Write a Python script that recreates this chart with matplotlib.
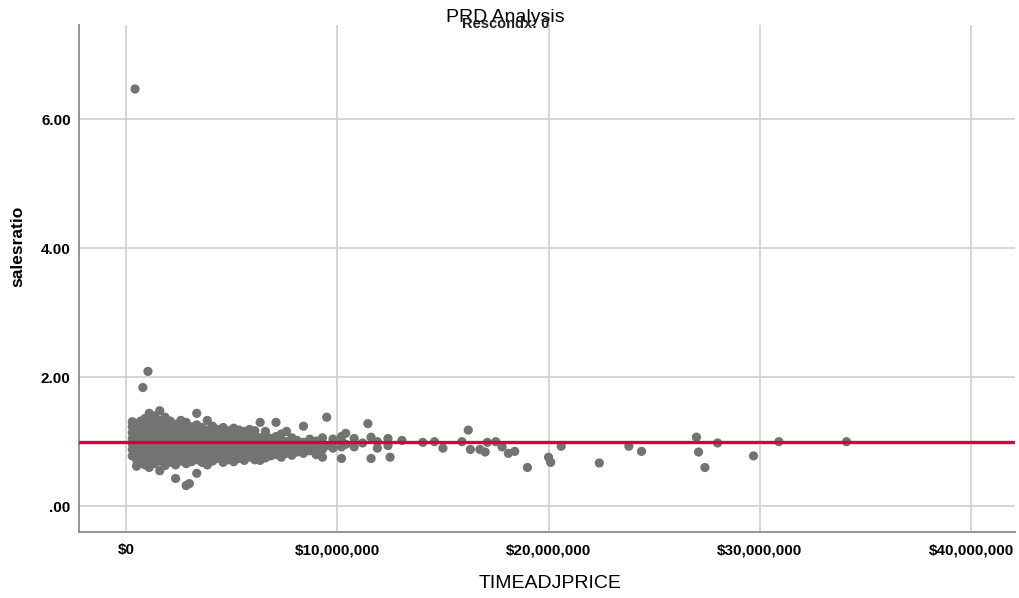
import matplotlib
matplotlib.use("Agg")
import matplotlib.pyplot as plt
from matplotlib.ticker import FuncFormatter

plt.rcParams['font.family'] = ['Liberation Sans', 'DejaVu Sans']

# price in millions of dollars, sales ratio
blob = [
    (0.3, [0.78, 0.88, 0.97, 1.05, 1.14, 1.23, 1.31]),
    (0.5, [0.62, 0.72, 0.83, 0.92, 1.01, 1.10, 1.19, 1.28]),
    (0.7, [0.68, 0.77, 0.86, 0.95, 1.04, 1.13, 1.22, 1.32]),
    (0.9, [0.64, 0.74, 0.84, 0.93, 1.02, 1.11, 1.20, 1.29, 1.36]),
    (1.1, [0.60, 0.70, 0.80, 0.89, 0.98, 1.07, 1.16, 1.25, 1.34, 1.44]),
    (1.35, [0.66, 0.75, 0.85, 0.94, 1.03, 1.12, 1.21, 1.30, 1.40]),
    (1.6, [0.55, 0.70, 0.79, 0.88, 0.97, 1.06, 1.15, 1.24, 1.33, 1.48]),
    (1.85, [0.63, 0.74, 0.83, 0.92, 1.01, 1.10, 1.19, 1.28, 1.38]),
    (2.1, [0.68, 0.78, 0.87, 0.96, 1.05, 1.14, 1.23, 1.32]),
    (2.35, [0.43, 0.64, 0.73, 0.82, 0.91, 1.00, 1.09, 1.18, 1.27]),
    (2.6, [0.70, 0.79, 0.88, 0.97, 1.06, 1.15, 1.24, 1.33]),
    (2.85, [0.32, 0.66, 0.75, 0.84, 0.93, 1.02, 1.11, 1.20, 1.30]),
    (3.0, [0.35]),
    (3.1, [0.69, 0.78, 0.87, 0.96, 1.05, 1.14, 1.23]),
    (3.35, [0.51, 0.72, 0.81, 0.90, 0.99, 1.08, 1.17, 1.26, 1.44]),
    (3.6, [0.68, 0.77, 0.86, 0.95, 1.04, 1.13, 1.22]),
    (3.85, [0.64, 0.73, 0.82, 0.91, 1.00, 1.09, 1.18, 1.33]),
    (4.1, [0.70, 0.79, 0.88, 0.97, 1.06, 1.15, 1.24]),
    (4.35, [0.74, 0.83, 0.92, 1.01, 1.10, 1.19]),
    (4.6, [0.68, 0.78, 0.87, 0.96, 1.05, 1.14, 1.22]),
    (4.85, [0.72, 0.81, 0.90, 0.99, 1.08, 1.17]),
    (5.1, [0.69, 0.78, 0.87, 0.96, 1.05, 1.14, 1.21]),
    (5.35, [0.74, 0.83, 0.92, 1.01, 1.10, 1.18]),
    (5.6, [0.71, 0.80, 0.89, 0.98, 1.07, 1.16]),
    (5.85, [0.76, 0.85, 0.94, 1.03, 1.12, 1.19]),
    (6.1, [0.72, 0.82, 0.91, 1.00, 1.09, 1.17]),
    (6.35, [0.71, 0.79, 0.88, 0.97, 1.06, 1.30]),
    (6.6, [0.75, 0.84, 0.93, 1.02, 1.11, 1.16]),
    (6.85, [0.78, 0.87, 0.96, 1.05]),
    (7.1, [0.80, 0.90, 0.99, 1.08, 1.30]),
    (7.35, [0.76, 0.85, 0.94, 1.03, 1.12]),
    (7.6, [0.82, 0.91, 1.00, 1.16]),
    (7.85, [0.79, 0.88, 0.97, 1.06]),
    (8.1, [0.84, 0.93, 1.02]),
    (8.4, [0.82, 0.90, 0.99, 1.24]),
    (8.7, [0.86, 0.95, 1.04]),
    (9.0, [0.80, 0.92, 1.01]),
    (9.3, [0.76, 0.88, 0.97, 1.06]),
    (9.5, [0.94, 1.38]),
    (9.8, [0.90, 0.99, 1.04]),
    (10.2, [0.74, 0.92, 1.01, 1.08]),
    (10.4, [0.96, 1.13]),
    (10.8, [0.92, 1.05]),
    (11.2, [0.98]),
    (11.45, [1.28]),
    (11.6, [0.74, 1.07]),
    (11.9, [0.90, 1.00]),
    (12.4, [0.94, 1.05]),
    (12.5, [0.76]),
    (13.06, [1.02]),
    (14.05, [0.99]),
    (14.6, [1.00]),
    (15.0, [0.90]),
]

tail_price = [0.43, 1.04, 0.80, 15.9, 16.2, 16.3, 16.75, 17.0, 17.1, 17.5, 17.8, 18.1, 18.4,
              19.0, 20.0, 20.1, 20.6, 22.4, 23.8, 24.4, 27.0, 27.1, 27.4, 28.0, 29.7, 30.9, 34.1]
tail_ratio = [6.47, 2.09, 1.84, 1.00, 1.18, 0.88, 0.88, 0.84, 0.99, 1.00, 0.92, 0.82, 0.85,
              0.60, 0.76, 0.68, 0.93, 0.67, 0.93, 0.85, 1.07, 0.84, 0.60, 0.98, 0.78, 1.00, 1.00]

price = []
ratio = []
for p, ys in blob:
    for v in ys:
        price.append(p * 1e6)
        ratio.append(v)
for p, v in zip(tail_price, tail_ratio):
    price.append(p * 1e6)
    ratio.append(v)

ref_ratio = 1.0
x_ticks = [0, 10e6, 20e6, 30e6, 40e6]
y_ticks = [0, 2, 4, 6]

fig = plt.figure(figsize=(10.2, 5.98), dpi=100)
ax = fig.add_axes([0.0775, 0.1104, 0.9175, 0.8476])

ax.scatter(price, ratio, s=44, color='#737373', edgecolors='none', zorder=3)
ax.axhline(ref_ratio, color='#d4003a', lw=2.4, zorder=4)

ax.set_xlim(-2.22e6, 42.07e6)
ax.set_ylim(-0.40, 7.46)
ax.set_xticks(x_ticks)
ax.set_yticks(y_ticks)
ax.xaxis.set_major_formatter(FuncFormatter(lambda v, _: '${:,.0f}'.format(v)))
ax.yaxis.set_major_formatter(FuncFormatter(lambda v, _: '.00' if v == 0 else '{:.2f}'.format(v)))
ax.tick_params(length=0, labelsize=11)
ax.tick_params(axis='x', pad=8)
ax.tick_params(axis='y', pad=6)
for lab in ax.get_xticklabels() + ax.get_yticklabels():
    lab.set_fontweight('bold')

ax.grid(True, color='#cfcfcf', lw=1.2, zorder=0)
ax.set_axisbelow(True)
for s in ['top', 'right']:
    ax.spines[s].set_visible(False)
for s in ['left', 'bottom']:
    ax.spines[s].set_color('#8c8c8c')
    ax.spines[s].set_linewidth(1.3)

ax.set_ylabel('salesratio', fontsize=12.5, fontweight='bold')
ax.yaxis.set_label_coords(-0.057, 0.564)
ax.set_xlabel('TIMEADJPRICE', fontsize=14)
ax.xaxis.set_label_coords(0.503, -0.085)

fig.text(0.495, 0.985, 'PRD Analysis', ha='center', va='top', fontsize=14)
fig.text(0.496, 0.972, 'Rescondx: 0', ha='center', va='top', fontsize=10.5, fontweight='bold', color='#222222')

fig.savefig('out.png', dpi=100)
